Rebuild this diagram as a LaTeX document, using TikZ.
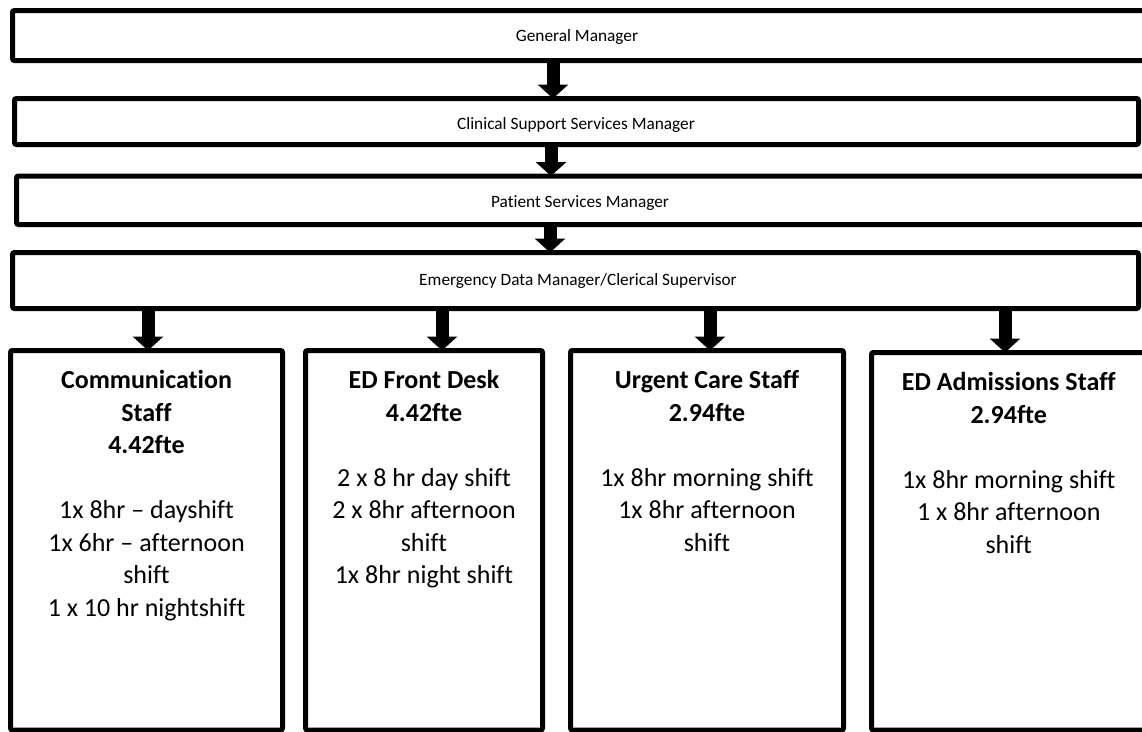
\documentclass[tikz,border=0pt]{standalone}
\usepackage{fontspec}
\setmainfont{Carlito}[Ligatures={TeX,NoCommon,NoContextual}]
\usetikzlibrary{arrows.meta}
\begin{document}
\begin{tikzpicture}[x=1pt,y=-1pt,
  box/.style={draw=black, line width=5pt, rounded corners=2pt, inner sep=0pt, outer sep=0pt, fill=white},
  toptext/.style={font=\fontsize{17.3}{21}\selectfont},
  staffbox/.style={box},
  stafftext/.style={inner sep=0pt, align=center, anchor=north, font=\fontsize{26}{32.5}\selectfont},
  blockarrow/.style={line width=13pt, -{Triangle[width=30pt,length=14pt]}, black}]
\useasboundingbox[fill=white] (0,0) rectangle (1142,731);
% top chain
\node[box, minimum width=1133.5pt, minimum height=50pt] (gm) at (579.25,35.5) {};
\node[box, minimum width=1124pt, minimum height=46pt] (css) at (576.5,121.5) {};
\node[box, minimum width=1129.5pt, minimum height=48.5pt] (psm) at (581.25,200.25) {};
\node[box, minimum width=1126pt, minimum height=56pt] (edm) at (575.5,280.5) {};
\node[toptext] (gmt) at (577,37) {General Manager};
\node[toptext] (csst) at (576,125) {Clinical Support Services Manager};
\node[toptext] (psmt) at (580,203) {Patient Services Manager};
\node[toptext] (edmt) at (578,281) {Emergency Data Manager/Clerical Supervisor};
% staff boxes
\node[staffbox, minimum width=272pt, minimum height=379.5pt] (ca) at (146.5,540.25) {};
\node[staffbox, minimum width=237pt, minimum height=379.5pt] (fd) at (424,540.25) {};
\node[staffbox, minimum width=273pt, minimum height=379.5pt] (uc) at (707,540.25) {};
\node[staffbox, minimum width=274.5pt, minimum height=377.5pt] (ad) at (1008.75,541.25) {};
\node[stafftext] (cat) at ([yshift=-20pt]ca.north) {\textbf{Communication}\\\textbf{Staff}\\\textbf{4.42fte}\\[32.5pt]1x 8hr – dayshift\\1x 6hr – afternoon\\shift\\1 x 10 hr nightshift};
\node[stafftext] (fdt) at ([yshift=-20pt]fd.north) {\textbf{ED Front Desk}\\\textbf{4.42fte}\\[32.5pt]2 x 8 hr day shift\\2 x 8hr afternoon\\shift\\1x 8hr night shift};
\node[stafftext] (uct) at ([yshift=-20pt]uc.north) {\textbf{Urgent Care Staff}\\\textbf{2.94fte}\\[32.5pt]1x 8hr morning shift\\1x 8hr afternoon\\shift};
\node[stafftext] (adt) at ([yshift=-20pt]ad.north) {\textbf{ED Admissions Staff}\\\textbf{2.94fte}\\[32.5pt]1x 8hr morning shift\\1 x 8hr afternoon\\shift};
% arrow columns
\coordinate (x1) at (553,0);
\coordinate (x2) at (551,0);
\coordinate (x3) at (550,0);
\coordinate (xa) at (148,0);
\coordinate (xb) at (442,0);
\coordinate (xc) at (710,0);
\coordinate (xd) at (1005,0);
\draw[blockarrow] (gm.south -| x1) -- (css.north -| x1);
\draw[blockarrow] (css.south -| x2) -- (psm.north -| x2);
\draw[blockarrow] (psm.south -| x3) -- (edm.north -| x3);
\draw[blockarrow] (edm.south -| xa) -- (ca.north -| xa);
\draw[blockarrow] (edm.south -| xb) -- (fd.north -| xb);
\draw[blockarrow] (edm.south -| xc) -- (uc.north -| xc);
\draw[blockarrow] (edm.south -| xd) -- (ad.north -| xd);
\end{tikzpicture}
\end{document}
